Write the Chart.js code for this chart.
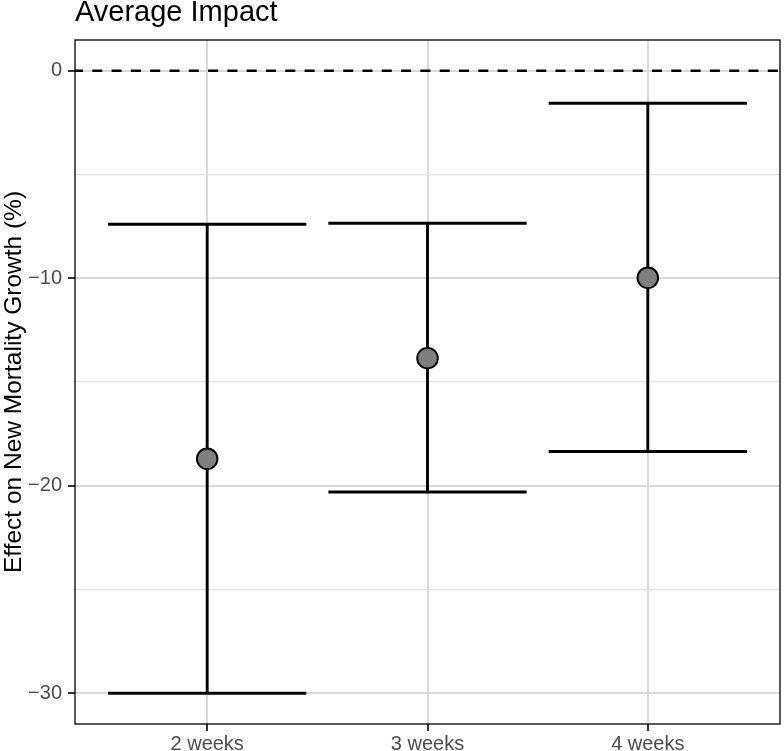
<!DOCTYPE html>
<html>
<head>
<meta charset="utf-8">
<script src="https://cdn.jsdelivr.net/npm/chart.js@4/dist/chart.umd.min.js"></script>
<style>
    html, body { margin: 0; padding: 0; background: #fff; }
    #wrap { width: 784px; height: 751px; }
</style>
</head>
<body>
<div id="wrap"><canvas id="chart-impact" width="784" height="751"></canvas></div>
<script>
// values
const categories = ["2 weeks", "3 weeks", "4 weeks"]
const estimate = [-18.7, -13.85, -9.98]
const lower = [-30.0, -20.3, -18.35]
const upper = [-7.4, -7.35, -1.57]
const yTicks = [-30, -25, -20, -15, -10, -5, 0]
const titleText = "Average Impact"
const yTitle = "Effect on New Mortality Growth (%)"

const font = "'Liberation Sans', Arial, Helvetica, sans-serif"
const capHalf = 0.45

const fmt = v => (v < 0 ? "\u2212" + Math.abs(v) : String(v))

// error bars as line datasets: vertical stem, lower cap, upper cap
const barSets = []
categories.forEach((c, i) => {
    const x = i + 1
    const segs = [
        [{ x: x, y: lower[i] }, { x: x, y: upper[i] }],
        [{ x: x - capHalf, y: lower[i] }, { x: x + capHalf, y: lower[i] }],
        [{ x: x - capHalf, y: upper[i] }, { x: x + capHalf, y: upper[i] }]
    ]
    segs.forEach(s => {
        barSets.push({
            type: "line",
            data: s,
            borderColor: "#000",
            borderWidth: 2.9,
            pointRadius: 0,
            borderCapStyle: "butt",
            order: 1
        })
    })
})

const panelPlugin = {
    id: "panel",
    afterDraw(chart) {
        const { ctx, chartArea } = chart
        ctx.save()
        ctx.strokeStyle = "#000"
        ctx.lineWidth = 1.3
        ctx.strokeRect(chartArea.left, chartArea.top, chartArea.right - chartArea.left, chartArea.bottom - chartArea.top)
        ctx.fillStyle = "#000"
        ctx.font = `29px ${font}`
        ctx.textBaseline = "alphabetic"
        ctx.textAlign = "left"
        ctx.fillText(titleText, chartArea.left, 21)
        ctx.restore()
    }
}

new Chart("chart-impact", {
    type: "scatter",
    data: {
        datasets: [
            {
                data: estimate.map((v, i) => ({ x: i + 1, y: v })),
                pointRadius: 10.3,
                pointHoverRadius: 10.3,
                backgroundColor: "#7f7f7f",
                borderColor: "#000",
                borderWidth: 1.9,
                order: 0
            },
            ...barSets,
            {
                type: "line",
                data: [{ x: 0.4, y: 0 }, { x: 3.6, y: 0 }],
                borderColor: "#000",
                borderWidth: 2.5,
                borderDash: [10, 9.3],
                borderDashOffset: 2,
                pointRadius: 0,
                order: 2
            }
        ]
    },
    options: {
        responsive: false,
        animation: false,
        events: [],
        layout: { autoPadding: false, padding: { left: 0, right: 4, top: 40, bottom: 0 } },
        plugins: {
            legend: { display: false },
            tooltip: { enabled: false },
            title: { display: false }
        },
        scales: {
            x: {
                type: "linear",
                min: 0.4,
                max: 3.6,
                afterBuildTicks: s => { s.ticks = categories.map((c, i) => ({ value: i + 1 })) },
                afterFit: s => {
                    s.height = 27
                    s.paddingLeft = 0
                    s.paddingRight = 0
                },
                border: { display: false },
                grid: {
                    color: "#d9d9d9",
                    lineWidth: 2,
                    tickColor: "#333",
                    tickLength: 7,
                    tickWidth: 2
                },
                ticks: {
                    padding: 1,
                    color: "#4d4d4d",
                    font: { family: font, size: 20 },
                    callback: v => categories[Math.round(v) - 1] || ""
                }
            },
            y: {
                type: "linear",
                min: -31.48,
                max: 1.48,
                afterBuildTicks: s => { s.ticks = yTicks.map(v => ({ value: v })) },
                afterFit: s => { s.width = 75 },
                border: { display: false },
                grid: {
                    color: ctx => (ctx.tick && ctx.tick.value % 10 === 0 ? "#d9d9d9" : "#e3e3e3"),
                    lineWidth: ctx => (ctx.tick && ctx.tick.value % 10 === 0 ? 2 : 1.3),
                    tickColor: ctx => (ctx.tick && ctx.tick.value % 10 === 0 ? "#333" : "rgba(0,0,0,0)"),
                    tickLength: 7,
                    tickWidth: 2
                },
                ticks: {
                    padding: 6,
                    color: "#4d4d4d",
                    font: { family: font, size: 20 },
                    callback: v => (v % 10 === 0 ? fmt(v) : "")
                },
                title: {
                    display: true,
                    text: yTitle,
                    color: "#000",
                    font: { family: font, size: 24.5 },
                    padding: { top: 0, bottom: 0 }
                }
            }
        }
    },
    plugins: [panelPlugin]
})
</script>
</body>
</html>
